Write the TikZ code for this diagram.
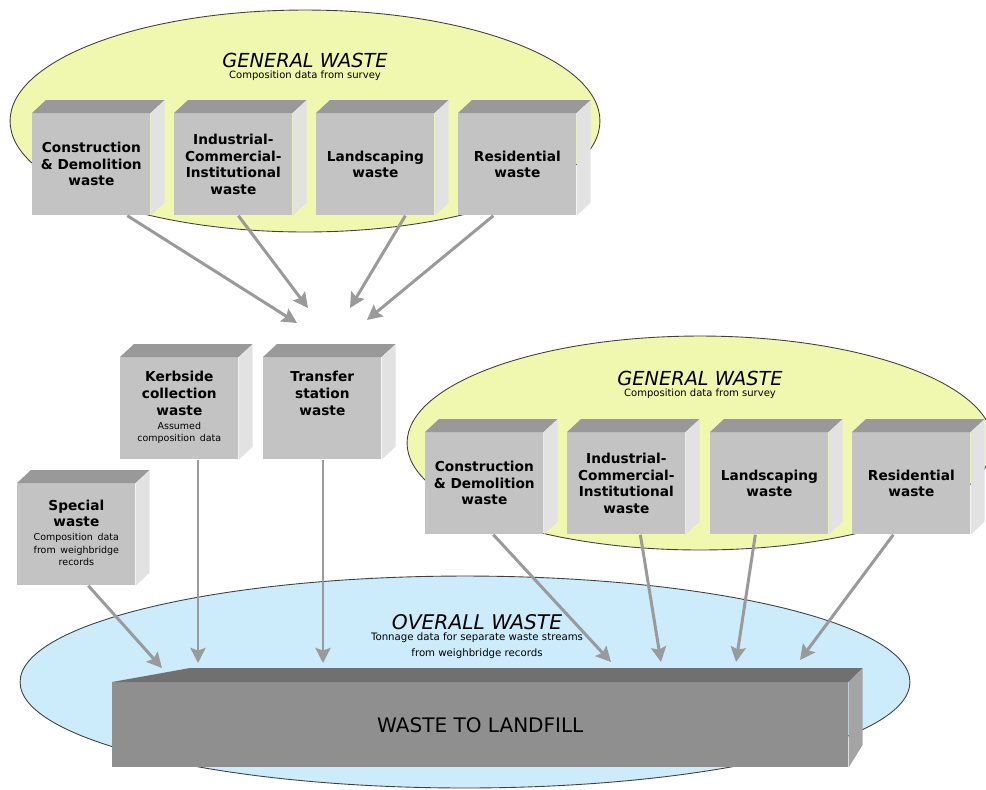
\documentclass[tikz,border=0pt]{standalone}
\usepackage{fontspec}
\setmainfont{DejaVu Sans}
\usepackage{tikz}
\usetikzlibrary{calc,arrows.meta}
\definecolor{survey}{HTML}{F0F8B0}
\definecolor{overall}{HTML}{CCEBFB}
\definecolor{boxfront}{HTML}{C3C3C3}
\definecolor{boxtop}{HTML}{999999}
\definecolor{boxside}{HTML}{E2E2E2}
\definecolor{barfront}{HTML}{8F8F8F}
\definecolor{bartop}{HTML}{707070}
\definecolor{barside}{HTML}{A4A4A4}
\definecolor{flowgray}{HTML}{9A9A9A}
\newcommand\cubefont{\fontsize{7.8}{9.4}\selectfont\bfseries}
\newcommand\cubenote[1]{{\fontsize{5.4}{7}\selectfont\mdseries\begin{tabular}{@{}c@{}}#1\end{tabular}}}
\newcommand\cubesides[1]{%
  \fill[boxtop] (#1.north west) -- ++(0.28cm,0.26cm) -- ($(#1.north east)+(0.28cm,0.26cm)$) -- (#1.north east) -- cycle;
  \fill[boxside] (#1.north east) -- ++(0.28cm,0.26cm) -- ($(#1.south east)+(0.28cm,0.26cm)$) -- (#1.south east) -- cycle;}
\tikzset{
  cloud/.style={draw=black!75, line width=0.5pt},
  cube/.style={fill=boxfront, minimum width=2.36cm, minimum height=2.04cm, inner sep=0pt,
    text width=2.34cm, align=center, font=\cubefont, anchor=north west},
  flow/.style={draw=flowgray, line width=1.7pt, -{Stealth[length=0.3cm,width=0.3cm,inset=0.05cm]}},
  title/.style={font=\fontsize{11}{12}\selectfont\itshape},
  subtitle/.style={font=\fontsize{5.7}{6}\selectfont}
}
\begin{document}
\begin{tikzpicture}[x=0.02cm,y=-0.02cm]
  \useasboundingbox (0,0) rectangle (986,789);

  % clouds
  \draw[cloud, fill=survey] (305,121) ellipse [x radius=5.9cm, y radius=2.22cm];
  \draw[cloud, fill=survey] (700,443) ellipse [x radius=5.86cm, y radius=2.14cm];
  \draw[cloud, fill=overall] (465,682) ellipse [x radius=8.9cm, y radius=2.12cm];

  \node[title] (gw1) at (305,60) {GENERAL WASTE};
  \node[subtitle] (gs1) at (305,76) {Composition data from survey};
  \node[title] (gw2) at (700,378) {GENERAL WASTE};
  \node[subtitle] (gs2) at (700,394) {Composition data from survey};
  \node[title, font=\fontsize{11.5}{12}\selectfont\itshape] (ow) at (477,622) {OVERALL WASTE};
  \node[align=center, font=\fontsize{5.8}{9}\selectfont] (os) at (477,646)
    {Tonnage data for separate waste streams\\from weighbridge records};

  % arrow tips
  \coordinate (t1) at (297,323);
  \coordinate (t2) at (308,308);
  \coordinate (t3) at (350,308);
  \coordinate (t4) at (367,320);
  \coordinate (l1) at (162,668);
  \coordinate (l2) at (198,663);
  \coordinate (l3) at (323,663);
  \coordinate (l4) at (611,662);
  \coordinate (l5) at (661,662);
  \coordinate (l6) at (736,662);
  \coordinate (l7) at (800,660);

  % waste streams
  \node[cube] (ga) at (32,113) {Construction\\\& Demolition\\waste};
  \node[cube] (gb) at (174,113) {Industrial-\\Commercial-\\Institutional\\waste};
  \node[cube] (gc) at (316,113) {Landscaping\\waste};
  \node[cube] (gd) at (458,113) {Residential\\waste};

  \node[cube] (kb) at (120,357) {Kerbside\\collection\\waste\\[2pt]\cubenote{Assumed\\composition data}};
  \node[cube] (ts) at (263,357) {Transfer\\station\\waste\\[2pt]\cubenote{\mbox{}\\\mbox{}}};
  \node[cube] (sw) at (17,483) {Special\\waste\\[2pt]\cubenote{Composition data\\from weighbridge\\records}};

  \node[cube] (ha) at (425,432) {Construction\\\& Demolition\\waste};
  \node[cube] (hb) at (567,432) {Industrial-\\Commercial-\\Institutional\\waste};
  \node[cube] (hc) at (710,432) {Landscaping\\waste};
  \node[cube] (hd) at (852,432) {Residential\\waste};

  \foreach \n in {ga,gb,gc,gd,kb,ts,sw,ha,hb,hc,hd} {\cubesides{\n}}

  % landfill
  \node[fill=barfront, minimum width=14.72cm, minimum height=1.7cm, inner sep=0pt,
    font=\fontsize{11.4}{12}\selectfont, anchor=north west] (bar) at (112,682) {WASTE TO LANDFILL};
  \fill[bartop] (bar.north west) -- ++(1.56cm,0.28cm) -- ($(bar.north east)+(0.28cm,0.28cm)$) -- (bar.north east) -- cycle;
  \fill[barside] (bar.north east) -- ++(0.28cm,0.28cm) -- ++(0,-1.54cm) -- (bar.south east) -- cycle;

  \draw[flow] ([xshift=0.72cm]ga.south) -- (t1);
  \draw[flow] ([xshift=0.1cm]gb.south) -- (t2);
  \draw[flow] ([xshift=0.6cm]gc.south) -- (t3);
  \draw[flow] ([xshift=-0.48cm]gd.south) -- (t4);

  \draw[flow] ([xshift=0.24cm]sw.south) -- (l1);
  \draw[flow] (l2 |- kb.south) -- (l2);
  \draw[flow] (l3 |- ts.south) -- (l3);
  \draw[flow] ([xshift=0.18cm]ha.south) -- (l4);
  \draw[flow] ([xshift=0.28cm]hb.south) -- (l5);
  \draw[flow] ([xshift=-0.28cm]hc.south) -- (l6);
  \draw[flow] ([xshift=-0.36cm]hd.south) -- (l7);
\end{tikzpicture}
\end{document}
